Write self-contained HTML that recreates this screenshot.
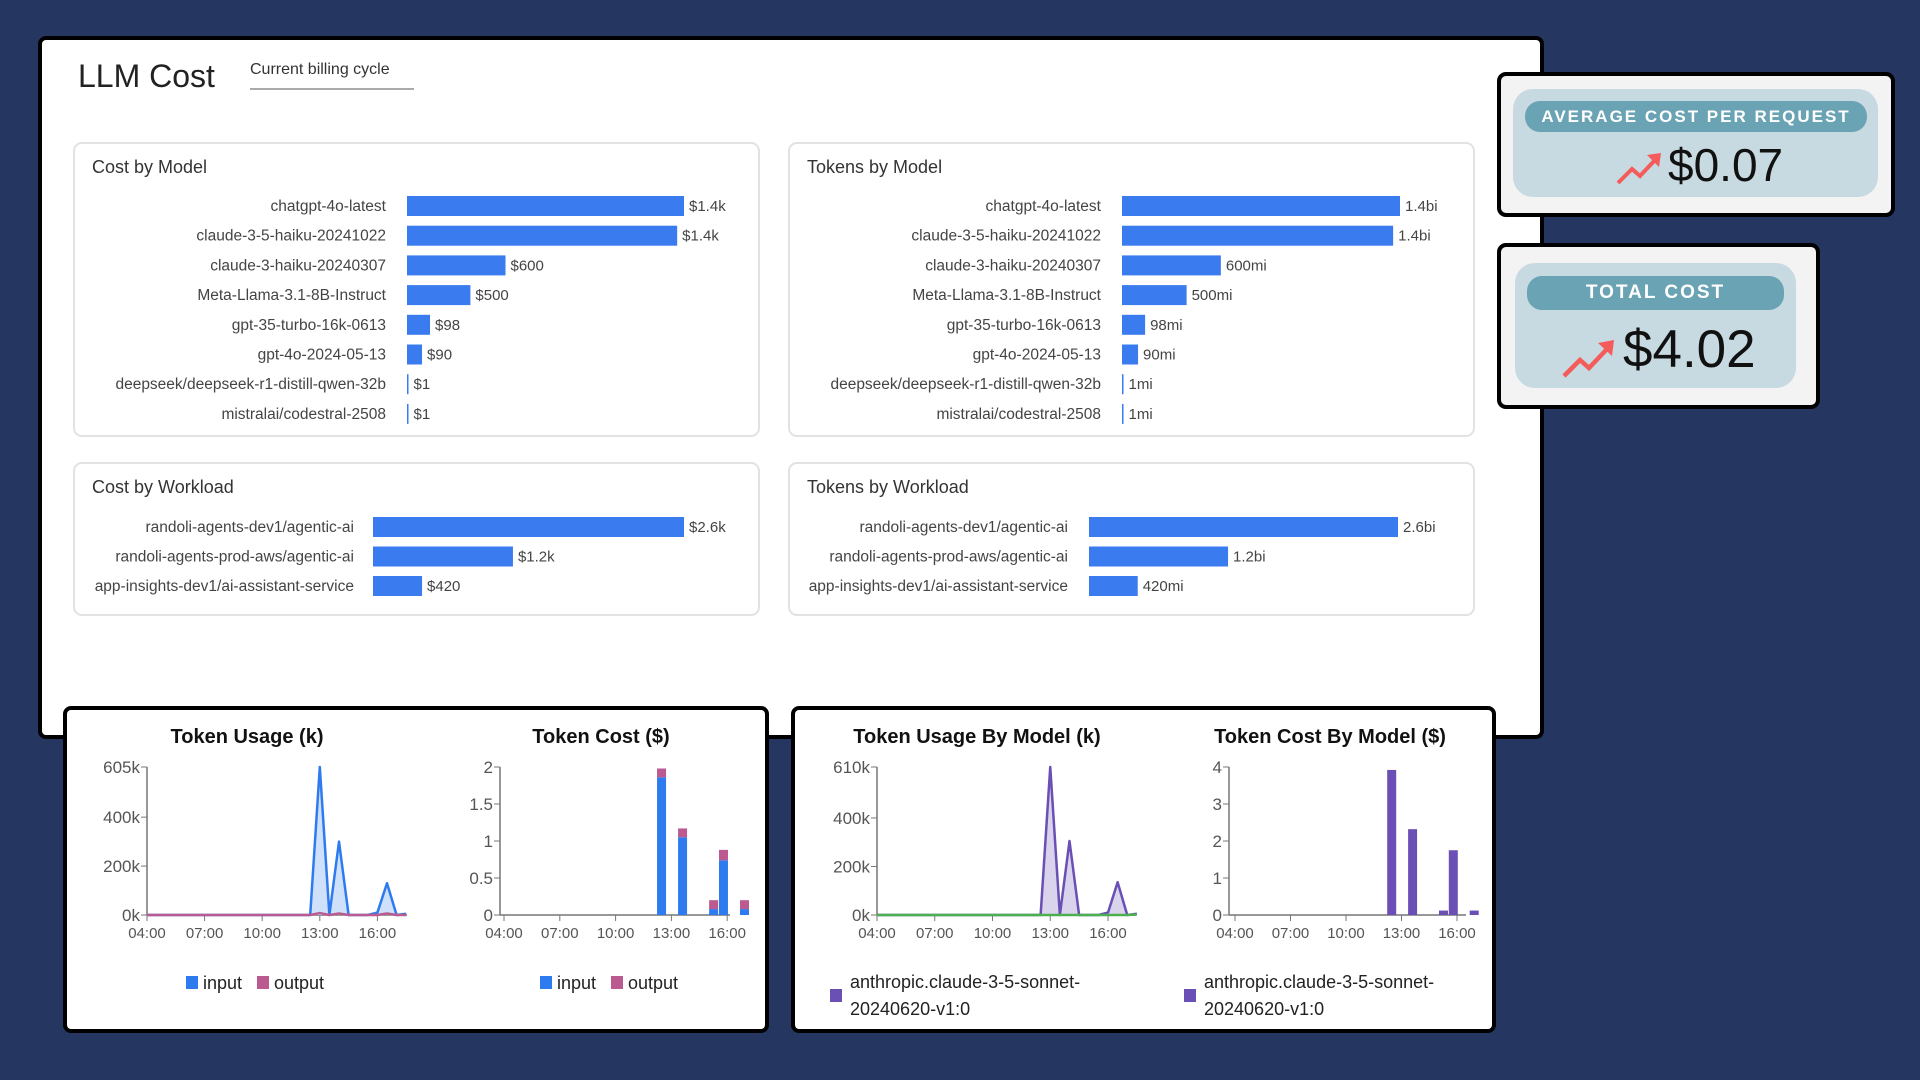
<!DOCTYPE html>
<html><head><meta charset="utf-8"><style>
*{box-sizing:border-box;margin:0;padding:0}
body{width:1920px;height:1080px;background:#253761;position:relative;overflow:hidden;font-family:"Liberation Sans",sans-serif;color:#222}
.abs{position:absolute}
.main{left:38px;top:36px;width:1506px;height:703px;background:#fff;border:4px solid #000;border-radius:8px}
.card{position:absolute;background:#fff;border:2px solid #e2e2e2;border-radius:9px}
.bottom{position:absolute;top:706px;height:327px;background:#fff;border:4px solid #000;border-radius:8px}
.stat{position:absolute;background:#f3f3f3;border:4px solid #000;border-radius:9px}
.inner{position:absolute;background:#c7dae1;border-radius:20px}
.pill{position:absolute;background:#6aa3b4;border-radius:15px;color:#fff;font-weight:bold;letter-spacing:2px;text-align:center}
svg{position:absolute;left:0;top:0}
</style></head><body>
<div class="abs main"></div>
<div class="abs" style="left:78px;top:58px;font-size:32px;color:#222">LLM Cost</div>
<div class="abs" style="left:250px;top:61px;font-size:16px;color:#333;width:164px;height:29px;border-bottom:2px solid #aaa">Current billing cycle</div>
<div class="card" style="left:73px;top:142px;width:687px;height:295px"></div>
<div class="card" style="left:788px;top:142px;width:687px;height:295px"></div>
<div class="card" style="left:73px;top:462px;width:687px;height:154px"></div>
<div class="card" style="left:788px;top:462px;width:687px;height:154px"></div>
<svg id="bars" width="1920" height="1080"></svg>
<div class="bottom" style="left:63px;width:706px"></div>
<div class="bottom" style="left:791px;width:705px"></div>
<svg id="ts" width="1920" height="1080"></svg>
<div class="stat" style="left:1497px;top:72px;width:398px;height:145px">
 <div class="inner" style="left:12px;top:13px;width:365px;height:108px"></div>
 <div class="pill" style="left:24px;top:25px;width:342px;height:31px;font-size:17px;line-height:31px">AVERAGE COST PER REQUEST</div>
 <svg style="left:114px;top:74px" width="50" height="36"><polyline points="3,33 17,19 25,26 40,10" fill="none" stroke="#f45b5b" stroke-width="4"/><polygon points="32,5 46,3 44,17" fill="#f45b5b"/></svg>
 <div class="abs" style="left:167px;top:62px;font-size:46px;color:#111">$0.07</div>
</div>
<div class="stat" style="left:1497px;top:243px;width:323px;height:166px">
 <div class="inner" style="left:14px;top:16px;width:281px;height:125px"></div>
 <div class="pill" style="left:26px;top:29px;width:257px;height:34px;font-size:19px;line-height:34px">TOTAL COST</div>
 <svg style="left:60px;top:90px" width="56" height="42"><polyline points="3,39 19,23 28,31 46,12" fill="none" stroke="#f45b5b" stroke-width="4.5"/><polygon points="37,6 53,3 51,19" fill="#f45b5b"/></svg>
 <div class="abs" style="left:122px;top:72px;font-size:53px;color:#111">$4.02</div>
</div>
<script>
// ---------- bar chart data ----------
const modelNames = ["chatgpt-4o-latest","claude-3-5-haiku-20241022","claude-3-haiku-20240307","Meta-Llama-3.1-8B-Instruct","gpt-35-turbo-16k-0613","gpt-4o-2024-05-13","deepseek/deepseek-r1-distill-qwen-32b","mistralai/codestral-2508"];
const costByModel = [1420,1385,505,325,118,77,2,2];
const costByModelLabels = ["$1.4k","$1.4k","$600","$500","$98","$90","$1","$1"];
const tokensByModel = [1420,1385,505,330,118,82,2,2];
const tokensByModelLabels = ["1.4bi","1.4bi","600mi","500mi","98mi","90mi","1mi","1mi"];
const workloadNames = ["randoli-agents-dev1/agentic-ai","randoli-agents-prod-aws/agentic-ai","app-insights-dev1/ai-assistant-service"];
const costByWorkload = [2600,1170,410];
const costByWorkloadLabels = ["$2.6k","$1.2k","$420"];
const tokensByWorkload = [2600,1170,410];
const tokensByWorkloadLabels = ["2.6bi","1.2bi","420mi"];

// ---------- time series data (hours) ----------
const usageHours = [4,4.5,5,5.5,6,6.5,7,7.5,8,8.5,9,9.5,10,10.5,11,11.5,12,12.5,13,13.5,14,14.5,15,15.5,16,16.5,17,17.5];
const usageInput = [0,0,0,0,0,0,0,0,0,0,0,0,0,0,0,0,0,0,605,0,300,0,0,0,10,130,0,5];
const usageOutput = [0,0,0,0,0,0,0,0,0,0,0,0,0,0,0,0,0,0,8,0,6,0,0,0,0,6,0,0];
const modelUsage = [0,0,0,0,0,0,0,0,0,0,0,0,0,0,0,0,0,0,610,0,305,0,0,0,10,135,0,5];
const modelUsageOther = [0,0,0,0,0,0,0,0,0,0,0,0,0,0,0,0,0,0,0,0,0,0,0,0,0,0,0,2];
const costHours = [12.47,13.6,15.27,15.8,16.93];
const costInput = [1.86,1.05,0.08,0.74,0.08];
const costOutput = [0.12,0.12,0.12,0.14,0.12];
const modelCost = [3.92,2.32,0.12,1.75,0.12];
const hourTicks = [4,7,10,13,16];
const hourTickLabels = ["04:00","07:00","10:00","13:00","16:00"];

const NS="http://www.w3.org/2000/svg";
function mk(svg,tag,attrs,text){const e=document.createElementNS(NS,tag);for(const k in attrs)e.setAttribute(k,attrs[k]);if(text!==undefined)e.textContent=text;svg.appendChild(e);return e;}

const bars=document.getElementById('bars');
function barChart(cfg,names,vals,labels,title){
  const t=mk(bars,'text',{x:cfg.left+19,y:cfg.top+31,'font-size':18,fill:'#333'},title);
  
  
  const xs=v=>v/cfg.max*cfg.width;
  names.forEach((n,i)=>{
    const cy=cfg.row0+i*cfg.step;
    const l=mk(bars,'text',{x:cfg.labelX,y:cy+5,'text-anchor':'end','font-size':15.5,fill:'#444'},n);
    
    
    const w=Math.max(1.5,xs(vals[i]));
    const r=mk(bars,'rect',{x:cfg.barX,y:cy-10,width:w,height:20,fill:'#3a7cf0'});
    
    
    const v=mk(bars,'text',{x:cfg.barX+w+5,y:cy+5,'font-size':15,fill:'#444'},labels[i]);
    
    
  });
}
barChart({left:73,top:142,row0:206,step:29.7,labelX:386,barX:407,width:277,max:1420},modelNames,costByModel,costByModelLabels,"Cost by Model");
barChart({left:788,top:142,row0:206,step:29.7,labelX:1101,barX:1122,width:278,max:1420},modelNames,tokensByModel,tokensByModelLabels,"Tokens by Model");
barChart({left:73,top:462,row0:527,step:29.5,labelX:354,barX:373,width:311,max:2600},workloadNames,costByWorkload,costByWorkloadLabels,"Cost by Workload");
barChart({left:788,top:462,row0:527,step:29.5,labelX:1068,barX:1089,width:309,max:2600},workloadNames,tokensByWorkload,tokensByWorkloadLabels,"Tokens by Workload");

const ts=document.getElementById('ts');
function axes(c,yTicks,yLabels,title){
  const tt=mk(ts,'text',{x:c.titleX,y:743,'text-anchor':'middle','font-size':20,'font-weight':'bold',fill:'#111'},title);
  
  
  mk(ts,'line',{x1:c.yAxisX,y1:c.y(yTicks[yTicks.length-1]),x2:c.yAxisX,y2:c.y(0),stroke:'#777','stroke-width':1.5});
  mk(ts,'line',{x1:c.yAxisX,y1:c.y(0),x2:c.xEnd,y2:c.y(0),stroke:'#777','stroke-width':1.5});
  yTicks.forEach((v,i)=>{
    mk(ts,'line',{x1:c.yAxisX-6,y1:c.y(v),x2:c.yAxisX,y2:c.y(v),stroke:'#777'});
    const l=mk(ts,'text',{x:c.yAxisX-7,y:c.y(v)+6,'text-anchor':'end','font-size':17,fill:'#555'},yLabels[i]);
    
    
  });
  hourTicks.forEach((h,i)=>{
    mk(ts,'line',{x1:c.x(h),y1:c.y(0),x2:c.x(h),y2:c.y(0)+6,stroke:'#777'});
    const l=mk(ts,'text',{x:c.x(h),y:938,'text-anchor':'middle','font-size':15,fill:'#555'},hourTickLabels[i]);
    
    
  });
}
function area(c,xs,ys,stroke,fill,withArea){
  const pts=xs.map((h,i)=>c.x(h)+','+c.y(ys[i])).join(' ');
  if(withArea){
    const a=mk(ts,'polygon',{points:c.x(xs[0])+','+c.y(0)+' '+pts+' '+c.x(xs[xs.length-1])+','+c.y(0),fill:fill,stroke:'none'});
    
    
  }
  const p=mk(ts,'polyline',{points:pts,fill:'none',stroke:stroke,'stroke-width':2.5,'stroke-linejoin':'round'});
  
  
}
function legend(x,y,color,text){
  const r=mk(ts,'rect',{x:x,y:y-13,width:12,height:13,fill:color});
  
  
  const t=mk(ts,'text',{x:x+17,y:y,'font-size':18,fill:'#222'},text);
  
  
}
// Chart A
const A={titleX:247,yAxisX:147,xEnd:407,x:h=>147+(h-4)*19.2,y:v=>915-v/605*148};
axes(A,[0,200,400,605],["0k","200k","400k","605k"],"Token Usage (k)");
area(A,usageHours,usageInput,'#2e7bf0','#cfe0fb',true);
area(A,usageHours,usageOutput,'#bb5a90','#ecd0e0',false);
legend(186,989,'#2e7bf0','input');legend(257,989,'#bb5a90','output');
// Chart B
const B={titleX:601,yAxisX:500,xEnd:730,x:h=>504+(h-4)*18.6,y:v=>915-v/2*148};
axes(B,[0,0.5,1,1.5,2],["0","0.5","1","1.5","2"],"Token Cost ($)");
costHours.forEach((h,i)=>{
  const r1=mk(ts,'rect',{x:B.x(h)-4.5,y:B.y(costInput[i]),width:9,height:B.y(0)-B.y(costInput[i]),fill:'#2e7bf0'});
  
  
  const top=costInput[i]+costOutput[i];
  const r2=mk(ts,'rect',{x:B.x(h)-4.5,y:B.y(top),width:9,height:B.y(costInput[i])-B.y(top),fill:'#bb5a90'});
  
  
});
legend(540,989,'#2e7bf0','input');legend(611,989,'#bb5a90','output');
// Chart C
const C={titleX:977,yAxisX:877,xEnd:1136,x:h=>877+(h-4)*19.25,y:v=>915-v/610*148};
axes(C,[0,200,400,610],["0k","200k","400k","610k"],"Token Usage By Model (k)");
area(C,usageHours,modelUsage,'#6a4fb5','#d9d3ec',true);
area(C,usageHours,modelUsageOther,'#4caf50','none',false);
// Chart D
const D={titleX:1330,yAxisX:1229,xEnd:1466,x:h=>1235+(h-4)*18.5,y:v=>915-v/4*148};
axes(D,[0,1,2,3,4],["0","1","2","3","4"],"Token Cost By Model ($)");
costHours.forEach((h,i)=>{
  const r=mk(ts,'rect',{x:D.x(h)-4.5,y:D.y(modelCost[i]),width:9,height:D.y(0)-D.y(modelCost[i]),fill:'#6a4fb5'});
  
  
});
[[830,'anthropic.claude-3-5-sonnet-'],[1184,'anthropic.claude-3-5-sonnet-']].forEach(([x,t])=>{
  const r=mk(ts,'rect',{x:x,y:989,width:12,height:13,fill:'#6a4fb5'});
  
  
  const a=mk(ts,'text',{x:x+20,y:988,'font-size':18,fill:'#222'},t);
  
  
  const b=mk(ts,'text',{x:x+20,y:1015,'font-size':18,fill:'#222'},'20240620-v1:0');
  
  
});
</script>
</body></html>
